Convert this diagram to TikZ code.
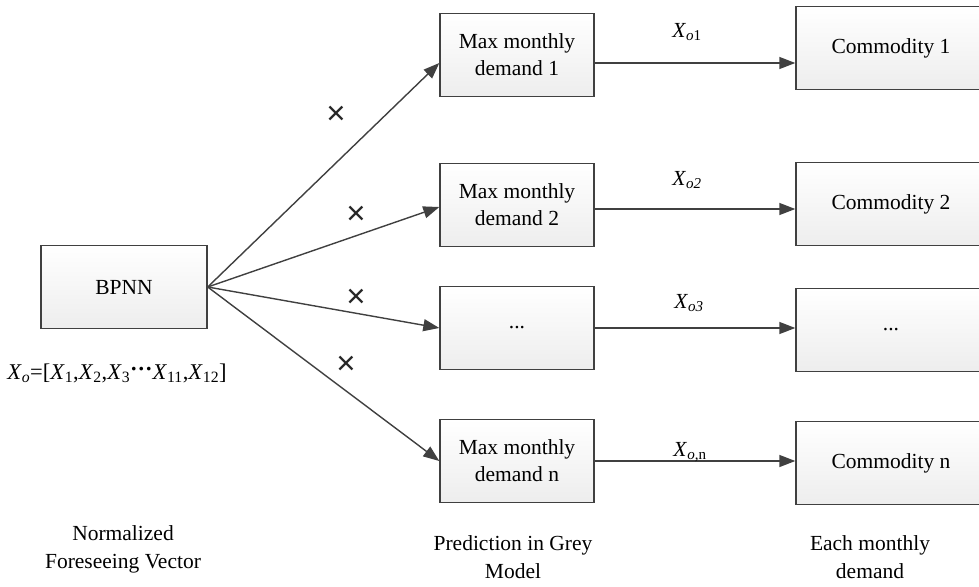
\documentclass[tikz,border=0pt]{standalone}
\usepackage{fontspec}
\setmainfont{Liberation Serif}
\newfontfamily\symfont{Liberation Sans}
\usetikzlibrary{arrows.meta,calc}
\definecolor{edge}{HTML}{404040}
\newcommand{\Xv}[1]{\textit{X}\textsubscript{#1}}
\begin{document}
\begin{tikzpicture}[x=1pt,y=-1pt,
  box/.style={draw=edge,line width=1.4pt,top color=white,bottom color=black!7,
    inner sep=0pt,align=center,font=\fontsize{21.5}{27}\selectfont},
  midbox/.style={box,minimum width=154pt,minimum height=83pt},
  combox/.style={box,minimum width=190pt,minimum height=83pt},
  arr/.style={draw=edge,line width=1.4pt,-{Triangle[length=16pt,width=12pt]}},
  lbl/.style={font=\fontsize{21.5}{28}\selectfont,inner sep=0pt,align=center},
  cross/.style={font=\symfont\fontsize{33}{33}\selectfont,inner sep=0pt,text=black!85}]
\useasboundingbox (0,0) rectangle (979,586);
\clip (0,0) rectangle (979,586);

% source network
\node[box,minimum width=166pt,minimum height=83pt] (bp) at (124,287) {BPNN};
\node[lbl,anchor=center,font=\fontsize{22.5}{28}\selectfont] (vec) at (117,373)
  {\Xv{\textit{o}}=[\Xv{1},\Xv{2},\Xv{3}\raisebox{0.25ex}{\textbf{···}}\Xv{11},\Xv{12}]};

% grey model predictions
\node[midbox] (m1) at (517,55)  {Max monthly\\demand 1};
\node[midbox] (m2) at (517,205) {Max monthly\\demand 2};
\node[midbox] (m3) at (517,328) {...};
\node[midbox] (m4) at (517,461) {Max monthly\\demand n};

% commodities
\node[combox] (c1) at (891,48)  {Commodity 1};
\node[combox] (c2) at (891,204) {Commodity 2};
\node[combox] (c3) at (891,330) {...};
\node[combox] (c4) at (891,463) {Commodity n};

% fan-out from the network
\draw[arr] (bp.east) -- ($(m1.west)+(0,8)$);
\draw[arr] (bp.east) -- ($(m2.west)+(0,2)$);
\draw[arr] (bp.east) -- (m3.west);
\draw[arr] (bp.east) -- (m4.west);

\node[cross] (x1) at (336,115) {×};
\node[cross] (x2) at (356,215) {×};
\node[cross] (x3) at (356,298) {×};
\node[cross] (x4) at (346,365) {×};

% prediction to commodity
\draw[arr] ($(m1.east)+(0,8)$) -- ($(m1.east -| c1.west)+(0,8)$);
\draw[arr] ($(m2.east)+(0,4)$) -- ($(m2.east -| c2.west)+(0,4)$);
\draw[arr] (m3.east) -- (m3.east -| c3.west);
\draw[arr] (m4.east) -- (m4.east -| c4.west);

\node[lbl] (l1) at (687,32)  {\Xv{\textit{o}1}};
\node[lbl] (l2) at (687,180) {\Xv{\textit{o2}}};
\node[lbl] (l3) at (689,303) {\Xv{\textit{o3}}};
\node[lbl] (l4) at (690,452) {\Xv{\textit{o},n}};

% column captions
\node[lbl] (t1) at (123,549) {Normalized\\Foreseeing Vector};
\node[lbl] (t2) at (513,557) {Prediction in Grey\\Model};
\node[lbl] (t3) at (870,557) {Each monthly\\demand};
\end{tikzpicture}
\end{document}
